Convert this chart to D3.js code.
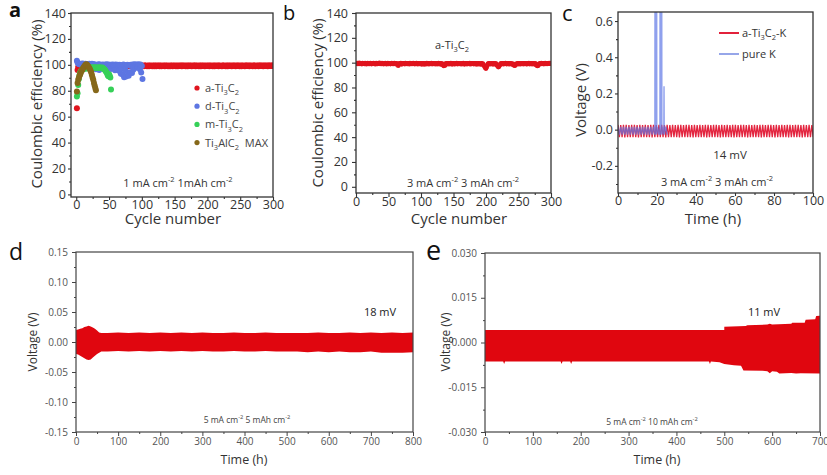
<!DOCTYPE html>
<html><head><meta charset="utf-8">
<script src="https://cdn.jsdelivr.net/npm/d3@7"></script>
<style>body{margin:0;background:#fff}svg{display:block}text{font-family:"Open Sans",sans-serif}</style>
</head><body><svg id="chart" width="827" height="475"></svg>
<script>
// ---------- DATA ----------
// Panel a: Coulombic efficiency (%) per cycle (cycle = position + 1)
const aRed = [
66.5,96.0,98.3,99.0,99.2,98.9,99.3,99.1,99.4,99.0,99.2,99.5,99.1,99.3,98.9,99.4,99.2,99.0,99.3,99.5,
99.1,99.3,99.0,99.4,99.2,98.9,99.5,99.1,99.3,99.0,99.4,99.2,99.1,99.5,99.0,99.3,99.2,98.9,99.4,99.1,
99.3,99.0,99.5,99.2,98.9,99.4,99.1,99.3,99.0,99.5,99.2,99.1,99.4,98.9,99.3,99.2,99.0,99.5,99.1,99.3,
99.4,99.0,99.2,99.5,99.1,98.9,99.3,99.4,99.0,99.2,99.5,99.1,99.3,98.9,99.4,99.2,99.0,99.3,99.5,99.1,
99.2,99.4,99.0,99.3,99.1,99.5,98.9,99.2,99.4,99.0,99.3,99.1,99.5,99.2,98.9,99.4,99.0,99.3,99.2,99.5,
99.1,99.3,99.0,99.4,99.2,99.5,99.1,98.9,99.3,99.4,99.0,99.2,99.5,99.1,99.3,99.0,99.4,99.2,98.9,99.5,
99.2,99.0,99.4,99.1,99.3,99.5,99.0,99.2,99.4,98.9,99.3,99.1,99.5,99.2,99.0,99.4,99.3,99.1,99.5,99.0,
99.3,99.2,98.9,99.4,99.1,99.5,99.0,99.3,99.2,99.4,99.1,98.9,99.5,99.3,99.0,99.2,99.4,99.1,99.3,99.5,
99.0,99.4,99.2,99.1,99.5,99.3,98.9,99.2,99.4,99.0,99.3,99.5,99.1,99.2,99.4,99.0,99.3,99.1,99.5,99.2,
99.4,99.0,99.3,99.5,99.1,99.2,98.9,99.4,99.3,99.0,99.5,99.2,99.1,99.4,99.3,99.0,99.2,99.5,99.1,99.3,
99.2,99.5,99.0,99.3,99.4,99.1,99.2,99.0,99.5,99.3,98.9,99.4,99.2,99.1,99.3,99.5,99.0,99.4,99.2,99.1,
99.3,99.0,99.4,99.2,99.5,99.1,99.3,98.9,99.4,99.2,99.0,99.5,99.3,99.1,99.4,99.2,99.0,99.3,99.5,99.1,
99.4,99.2,99.0,99.3,99.5,99.1,99.4,99.2,98.9,99.3,99.5,99.0,99.2,99.4,99.1,99.3,99.0,99.5,99.2,99.4,
99.1,99.3,99.5,99.0,99.2,99.4,99.1,99.3,99.0,99.5,99.2,99.4,98.9,99.3,99.1,99.5,99.2,99.0,99.4,99.3,
99.5,99.1,99.2,99.4,99.0,99.3,99.5,99.2,99.1,99.4,99.3,99.0,99.5,99.2,99.4,99.1,99.3,99.5,99.2,99.4];
const aBlue = [
103.2,101.8,101.0,100.6,100.9,100.2,100.7,100.4,101.1,100.3,100.8,100.5,100.1,100.9,100.6,100.2,100.7,100.4,100.0,100.8,
100.3,100.6,100.1,100.9,100.4,99.8,100.5,100.2,99.6,96.5,100.1,99.9,97.2,100.4,96.0,100.2,99.7,98.3,100.0,99.5,
100.3,99.8,97.8,100.1,99.6,100.4,98.9,99.7,100.2,97.3,99.9,100.1,96.8,99.6,100.3,99.2,100.0,99.5,95.8,100.2,
99.7,96.4,100.0,99.3,95.5,100.1,99.6,93.2,97.0,99.8,92.5,100.2,90.4,99.5,95.9,91.0,99.7,100.1,93.8,91.6,
99.4,94.3,100.0,99.1,93.6,100.3,96.2,99.8,100.4,97.5,99.6,100.2,99.0,98.1,100.5,99.4,96.6,100.2,94.0,99.1,89.0];
const aGreen = [
75.5,78.0,84.5,89.0,92.0,93.8,95.0,95.6,96.2,96.8,97.0,97.3,96.9,97.5,97.2,97.8,97.4,97.6,98.0,97.7,
97.9,97.5,98.1,97.8,97.6,98.0,97.7,97.9,98.2,97.6,97.8,98.0,97.5,97.9,97.7,98.1,97.6,97.8,97.4,97.9,
97.2,96.8,96.5,95.8,95.0,94.2,93.5,92.0,91.2,92.8,91.5,90.2,81.0];
const aBrown = [
79.5,86.0,88.5,90.0,91.5,92.8,94.0,95.2,96.0,97.0,97.8,98.5,99.2,99.8,100.5,100.2,99.6,99.0,98.2,97.3,
96.4,95.2,93.8,92.0,90.0,88.2,86.0,84.0,82.2,80.3];
// Panel b: a-Ti3C2 at 3 mA cm-2
const bRed = [
99.2,99.6,99.0,99.4,99.8,99.1,99.5,99.3,98.9,99.7,99.2,99.5,99.0,99.6,99.3,98.8,99.4,99.7,99.1,99.5,
99.0,99.6,99.3,98.9,99.5,99.2,99.7,99.1,99.4,98.8,99.6,99.3,99.0,99.5,99.2,99.8,99.1,99.4,99.0,99.6,
99.3,98.9,99.5,99.1,99.7,99.2,98.8,99.4,99.6,99.0,99.3,99.5,98.9,99.2,99.7,99.1,99.4,99.0,99.6,99.3,
98.9,99.5,99.2,98.6,97.6,98.8,99.4,99.1,99.6,98.7,99.3,99.0,99.5,99.2,98.9,99.6,99.1,99.4,99.0,99.5,
99.2,98.8,99.6,99.3,99.0,99.5,99.1,99.7,99.2,98.9,99.4,99.0,99.6,99.3,98.8,99.5,99.2,99.0,99.4,99.1,
98.7,99.3,99.0,99.5,98.6,99.2,99.4,98.9,99.6,99.1,99.3,98.8,99.5,99.0,99.2,99.6,98.9,99.4,99.1,99.3,
99.0,99.5,98.8,99.2,99.4,98.9,99.6,99.1,99.3,98.7,99.0,99.4,98.5,98.2,97.4,98.6,97.8,99.1,99.3,98.9,
99.5,99.2,98.8,99.4,99.0,99.6,99.1,98.7,99.3,99.5,99.0,98.8,99.4,99.2,99.6,98.9,99.3,99.1,99.5,99.0,
99.2,98.8,99.4,99.1,99.6,99.0,98.7,99.3,99.5,99.1,98.9,99.4,99.2,99.0,99.6,98.8,99.3,99.1,99.5,99.2,
98.9,99.4,99.0,99.3,98.7,99.5,99.1,98.8,99.4,99.2,99.0,98.6,99.3,98.9,99.1,98.4,97.6,96.8,95.6,95.2,
96.4,97.8,98.9,99.3,99.0,99.5,98.8,99.2,99.4,99.0,98.7,99.3,99.1,98.9,99.4,98.6,98.0,97.2,96.4,96.9,
97.9,98.8,99.3,99.0,99.5,99.1,98.8,99.4,99.2,99.6,99.0,98.9,99.3,99.1,99.5,98.8,99.2,99.4,99.0,98.7,
99.1,98.5,98.0,97.6,97.9,98.6,99.2,99.0,99.4,98.9,99.3,99.1,98.8,99.5,99.2,99.0,99.4,98.9,99.3,99.1,
99.5,99.0,98.8,99.4,99.2,99.6,98.9,99.3,99.1,99.5,98.8,99.2,99.4,99.0,98.7,99.3,98.5,97.9,97.4,97.6,
98.3,99.0,99.4,99.1,99.6,99.0,99.3,99.5,98.9,99.2,99.6,99.1,99.4,99.0,99.5,99.3,99.7,99.2,99.4,99.6];
// Panel c: voltage (V) vs time (h)
const cRedT = [
0,0.7,1.4,2.1,2.8,3.5,4.2,4.9,5.6,6.3,7,7.7,8.4,9.1,9.8,10.5,11.2,11.9,12.6,13.3,
14,14.7,15.4,16.1,16.8,17.5,18.2,18.9,19.6,20.3,21,21.7,22.4,23.1,23.8,24.5,25.2,25.9,26.6,27.3,
28,28.7,29.4,30.1,30.8,31.5,32.2,32.9,33.6,34.3,35,35.7,36.4,37.1,37.8,38.5,39.2,39.9,40.6,41.3,
42,42.7,43.4,44.1,44.8,45.5,46.2,46.9,47.6,48.3,49,49.7,50.4,51.1,51.8,52.5,53.2,53.9,54.6,55.3,
56,56.7,57.4,58.1,58.8,59.5,60.2,60.9,61.6,62.3,63,63.7,64.4,65.1,65.8,66.5,67.2,67.9,68.6,69.3,
70,70.7,71.4,72.1,72.8,73.5,74.2,74.9,75.6,76.3,77,77.7,78.4,79.1,79.8,80.5,81.2,81.9,82.6,83.3,
84,84.7,85.4,86.1,86.8,87.5,88.2,88.9,89.6,90.3,91,91.7,92.4,93.1,93.8,94.5,95.2,95.9,96.6,97.3,
98,98.7,99.4,100.1];
const cRedV = [
0.026,-0.042,0.025,-0.041,0.027,-0.043,0.026,-0.042,0.025,-0.041,0.026,-0.042,0.027,-0.041,0.025,-0.043,0.026,-0.042,0.025,-0.041,
0.026,-0.042,0.025,-0.041,0.027,-0.043,0.026,-0.042,0.025,-0.041,0.026,-0.042,0.027,-0.041,0.025,-0.043,0.026,-0.042,0.025,-0.041,
0.026,-0.042,0.025,-0.041,0.027,-0.043,0.026,-0.042,0.025,-0.041,0.026,-0.042,0.027,-0.041,0.025,-0.043,0.026,-0.042,0.025,-0.041,
0.026,-0.042,0.025,-0.041,0.027,-0.043,0.026,-0.042,0.025,-0.041,0.026,-0.042,0.027,-0.041,0.025,-0.043,0.026,-0.042,0.025,-0.041,
0.026,-0.042,0.025,-0.041,0.027,-0.043,0.026,-0.042,0.025,-0.041,0.026,-0.042,0.027,-0.041,0.025,-0.043,0.026,-0.042,0.025,-0.041,
0.026,-0.042,0.025,-0.041,0.027,-0.043,0.026,-0.042,0.025,-0.041,0.026,-0.042,0.027,-0.041,0.025,-0.043,0.026,-0.042,0.025,-0.041,
0.026,-0.042,0.025,-0.041,0.027,-0.043,0.026,-0.042,0.025,-0.041,0.026,-0.042,0.027,-0.041,0.025,-0.043,0.026,-0.042,0.025,-0.041,
0.026,-0.042,0.025,-0.041];
const cBlueT = [0,0.7,1.4,2.1,2.8,3.5,4.2,4.9,5.6,6.3,7,7.7,8.4,9.1,9.8,10.5,11.2,11.9,12.6,13.3,14,14.7,15.4,16.1,16.8,17.5,18.2,18.9,
19.0,19.1,19.7,19.8,19.9,20.3,21.0,21.5,21.6,21.7,22.3,22.4,22.5,23.1,23.5,23.6,23.7,24.5,25.2];
const cBlueV = [0.016,-0.027,0.016,-0.027,0.016,-0.027,0.016,-0.027,0.016,-0.027,0.016,-0.027,0.016,-0.027,0.016,-0.027,0.016,-0.027,0.016,-0.027,0.016,-0.027,0.016,-0.027,0.016,-0.027,0.016,-0.027,
1.2,-0.027,0.016,1.2,-0.027,0.016,-0.027,0.016,1.2,-0.027,0.016,1.2,-0.027,0.016,-0.027,0.24,-0.027,0.016,-0.027];
// Panel d: voltage envelope (V) vs time (h)
const dT  = [0,5,10,15,20,25,30,35,40,45,50,55,60,75,100,125,150,175,200,225,250,275,300,325,350,375,400,425,450,475,500,525,550,575,600,625,650,675,700,725,750,775,800];
const dUp = [0.020,0.021,0.022,0.023,0.025,0.026,0.027,0.026,0.024,0.022,0.019,0.016,0.015,0.015,0.016,0.015,0.016,0.015,0.016,0.015,0.016,0.015,0.016,0.015,0.015,0.016,0.015,0.015,0.016,0.015,0.015,0.015,0.015,0.016,0.015,0.015,0.016,0.015,0.016,0.015,0.016,0.015,0.016];
const dLo = [-0.020,-0.021,-0.023,-0.025,-0.027,-0.029,-0.030,-0.029,-0.026,-0.023,-0.020,-0.018,-0.016,-0.016,-0.015,-0.016,-0.015,-0.016,-0.015,-0.016,-0.015,-0.016,-0.015,-0.016,-0.016,-0.015,-0.016,-0.016,-0.015,-0.016,-0.016,-0.016,-0.017,-0.016,-0.017,-0.016,-0.017,-0.017,-0.016,-0.018,-0.018,-0.018,-0.017];
// Panel e: voltage envelope (V) vs time (h)
const eTopT = [0,500,500,545,548,590,595,600,640,642,668,670,690,692,700];
const eTopV = [0.0042,0.0042,0.0053,0.0055,0.0058,0.0060,0.0063,0.0060,0.0063,0.0066,0.0066,0.0076,0.0078,0.0089,0.0090];
const eBotT = [0,38,40,42,158,160,162,178,180,182,468,470,472,490,500,520,535,540,580,590,595,600,610,615,640,650,660,700];
const eBotV = [-0.0064,-0.0064,-0.0072,-0.0064,-0.0064,-0.0072,-0.0064,-0.0064,-0.0072,-0.0064,-0.0064,-0.0072,-0.0064,-0.0066,-0.0072,-0.0076,-0.0078,-0.0094,-0.0095,-0.0096,-0.0103,-0.0096,-0.0098,-0.0104,-0.0102,-0.0104,-0.0103,-0.0104];
// Tick values
const abXTicks = [0,50,100,150,200,250,300];
const abYTicks = [0,20,40,60,80,100,120,140];
const cXTicks = [0,20,40,60,80,100];
const cYTicks = [-0.2,0,0.2,0.4,0.6];
const dXTicks = [0,100,200,300,400,500,600,700,800];
const dYTicks = [-0.15,-0.10,-0.05,0,0.05,0.10,0.15];
const eXTicks = [0,100,200,300,400,500,600,700];
const eYTicks = [-0.030,-0.015,0,0.015,0.030];

// ---------- DRAWING ----------
const svg = d3.select('#chart');
svg.append('rect').attr('width',827).attr('height',475).attr('fill','#fff');
const RED = '#e0141e', BLUE = '#5d76e2', GREEN = '#36d058', BROWN = '#86681a';
const RED2 = '#e0060f';

function rich(t, parts, fs){
  let shift = 0;
  parts.forEach(([s,m])=>{
    const target = m==='sub' ? fs*0.3 : m==='sup' ? -fs*0.42 : 0;
    const ts = t.append('tspan').text(s).attr('dy', target-shift);
    if(m!=='n') ts.attr('font-size', fs*0.68);
    shift = target;
  });
  return t;
}

function panel(c){
  const x = d3.scaleLinear().domain(c.xd).range([c.L,c.R]);
  const y = d3.scaleLinear().domain(c.yd).range([c.B,c.T]);
  svg.append('clipPath').attr('id','clip'+c.id).append('rect')
    .attr('x',c.L).attr('y',c.T).attr('width',c.R-c.L).attr('height',c.B-c.T);
  const g = svg.append('g');
  const data = g.append('g').attr('clip-path',`url(#clip${c.id})`);
  const style = sel => {
    sel.select('.domain').remove();
    sel.selectAll('line').attr('stroke',c.col).attr('stroke-width',c.sw);
    sel.selectAll('text').attr('fill',c.tcol).attr('font-size',c.fs).attr('font-family','"Open Sans",sans-serif');
  };
  g.append('g').attr('transform',`translate(0,${c.B})`)
    .call(d3.axisBottom(x).tickValues(c.xm).tickFormat('').tickSize(c.mt).tickSizeOuter(0)).call(style);
  g.append('g').attr('transform',`translate(${c.L},0)`)
    .call(d3.axisLeft(y).tickValues(c.ym).tickFormat('').tickSize(c.mt).tickSizeOuter(0)).call(style);
  g.append('g').attr('transform',`translate(0,${c.B})`)
    .call(d3.axisBottom(x).tickValues(c.xt).tickFormat(d3.format(c.xf)).tickSize(c.tk).tickPadding(c.px).tickSizeOuter(0)).call(style);
  g.append('g').attr('transform',`translate(${c.L},0)`)
    .call(d3.axisLeft(y).tickValues(c.yt).tickFormat(v=>d3.format(c.yf)(v).replace('−','-')).tickSize(c.tk).tickPadding(c.py).tickSizeOuter(0)).call(style);
  g.append('rect').attr('x',c.L).attr('y',c.T).attr('width',c.R-c.L).attr('height',c.B-c.T)
    .attr('fill','none').attr('stroke',c.col).attr('stroke-width',c.fw);
  return {x,y,data,g};
}
function minorOf(ticks){ const r=[]; for(let i=0;i<ticks.length-1;i++) r.push((ticks[i]+ticks[i+1])/2); return r; }

const big = {col:'#333',tcol:'#333',sw:1.1,fw:1.3,fs:12.5,tk:3,mt:2,px:0.5,py:2};
// ---- Panel a ----
const A = panel(Object.assign({},big,{id:'a',L:71,R:273,T:13,B:197,xd:[-8,300],yd:[-2,140],
  xt:abXTicks,yt:abYTicks,xm:minorOf(abXTicks),ym:minorOf(abYTicks),xf:'d',yf:'d'}));
[[aRed,RED],[aBlue,BLUE],[aGreen,GREEN],[aBrown,BROWN]].forEach(([arr,col])=>{
  A.data.selectAll(null).data(arr).enter().append('circle')
    .attr('cx',(d,i)=>A.x(i+1)).attr('cy',d=>A.y(d)).attr('r',3).attr('fill',col);
});
const legA = [[RED,[['a-Ti','n'],['3','sub'],['C','n'],['2','sub']]],
  [BLUE,[['d-Ti','n'],['3','sub'],['C','n'],['2','sub']]],
  [GREEN,[['m-Ti','n'],['3','sub'],['C','n'],['2','sub']]],
  [BROWN,[['Ti','n'],['3','sub'],['AlC','n'],['2','sub'],['  MAX','n']]]];
legA.forEach(([col,parts],i)=>{
  const yy = 88 + i*18.2;
  svg.append('circle').attr('cx',197).attr('cy',yy).attr('r',2.6).attr('fill',col);
  rich(svg.append('text').attr('x',205).attr('y',yy+4).attr('font-size',11).attr('fill','#444').attr('xml:space','preserve'),parts,11);
});
rich(svg.append('text').attr('x',178).attr('y',187).attr('text-anchor','middle').attr('font-size',11).attr('fill','#333'),
  [['1 mA cm','n'],['-2','sup'],[' 1mAh cm','n'],['-2','sup']],11);
svg.append('text').attr('x',173).attr('y',224).attr('text-anchor','middle').attr('font-size',15).attr('fill','#333').text('Cycle number');
svg.append('text').attr('transform','translate(42,104) rotate(-90)').attr('text-anchor','middle').attr('font-size',15).attr('fill','#333').text('Coulombic efficiency (%)');
svg.append('text').attr('x',9).attr('y',17).attr('font-size',20).attr('font-weight','bold').attr('font-family','"Liberation Sans",Arial,sans-serif').attr('fill','#111').text('a');

// ---- Panel b ----
const B = panel(Object.assign({},big,{id:'b',L:356,R:551,T:13,B:193,xd:[0,300],yd:[-5,140],
  xt:abXTicks,yt:abYTicks,xm:minorOf(abXTicks),ym:minorOf(abYTicks),xf:'d',yf:'d',tk:4,py:4}));
B.data.selectAll(null).data(bRed).enter().append('circle')
  .attr('cx',(d,i)=>B.x(i+1)).attr('cy',d=>B.y(d)).attr('r',2.4).attr('fill',RED);
rich(svg.append('text').attr('x',452).attr('y',49).attr('text-anchor','middle').attr('font-size',11).attr('fill','#333'),
  [['a-Ti','n'],['3','sub'],['C','n'],['2','sub']],11);
rich(svg.append('text').attr('x',463).attr('y',187).attr('text-anchor','middle').attr('font-size',11).attr('fill','#333'),
  [['3 mA cm','n'],['-2','sup'],[' 3 mAh cm','n'],['-2','sup']],11);
svg.append('text').attr('x',459).attr('y',224).attr('text-anchor','middle').attr('font-size',15).attr('fill','#333').text('Cycle number');
svg.append('text').attr('transform','translate(323,103) rotate(-90)').attr('text-anchor','middle').attr('font-size',15).attr('fill','#333').text('Coulombic efficiency (%)');
svg.append('text').attr('x',283).attr('y',20).attr('font-size',20).attr('font-family','"Liberation Sans",Arial,sans-serif').attr('fill','#111').text('b');

// ---- Panel c ----
const C = panel(Object.assign({},big,{id:'c',L:618,R:813,T:12,B:193,xd:[0,100],yd:[-0.35,0.65],
  xt:cXTicks,yt:cYTicks,xm:minorOf(cXTicks),ym:[-0.3,-0.1,0.1,0.3,0.5],xf:'d',yf:'.1f'}));
const lineC = d3.line().x(d=>C.x(d[0])).y(d=>C.y(d[1]));
C.data.append('path').attr('d',lineC(cRedT.map((t,i)=>[t,cRedV[i]]))).attr('fill','none')
  .attr('stroke','#e3253f').attr('stroke-width',1.3);
C.data.append('path').attr('d',lineC(cBlueT.map((t,i)=>[t,cBlueV[i]]))).attr('fill','none')
  .attr('stroke','#5f78e6').attr('stroke-width',1.4).attr('stroke-opacity',0.7);
svg.append('line').attr('x1',719).attr('x2',739).attr('y1',33).attr('y2',33).attr('stroke','#e2213b').attr('stroke-width',2);
svg.append('line').attr('x1',719).attr('x2',739).attr('y1',54).attr('y2',54).attr('stroke','#7b90e4').attr('stroke-width',1.6);
rich(svg.append('text').attr('x',742).attr('y',37).attr('font-size',11).attr('fill','#333'),
  [['a-Ti','n'],['3','sub'],['C','n'],['2','sub'],['-K','n']],11);
svg.append('text').attr('x',742).attr('y',58).attr('font-size',11).attr('fill','#333').text('pure K');
svg.append('text').attr('x',730).attr('y',159).attr('text-anchor','middle').attr('font-size',11.5).attr('fill','#333').text('14 mV');
rich(svg.append('text').attr('x',717).attr('y',186).attr('text-anchor','middle').attr('font-size',11).attr('fill','#333'),
  [['3 mA cm','n'],['-2','sup'],[' 3 mAh cm','n'],['-2','sup']],11);
svg.append('text').attr('x',713).attr('y',224).attr('text-anchor','middle').attr('font-size',15).attr('fill','#333').text('Time (h)');
svg.append('text').attr('transform','translate(586,100) rotate(-90)').attr('text-anchor','middle').attr('font-size',15).attr('fill','#333').text('Voltage (V)');
svg.append('text').attr('x',562).attr('y',21).attr('font-size',22).attr('font-family','"Liberation Sans",Arial,sans-serif').attr('fill','#111').text('c');

// ---- Panel d ----
const small = {col:'#444',tcol:'#555',sw:1,fw:1.2,fs:10,tk:4,mt:2,px:2,py:4};
const D = panel(Object.assign({},small,{id:'d',L:76,R:413,T:252,B:432,xd:[0,800],yd:[-0.15,0.15],
  xt:dXTicks,yt:dYTicks,xm:minorOf(dXTicks),ym:minorOf(dYTicks),xf:'d',yf:'.2f'}));
const areaD = d3.area().x((d,i)=>D.x(dT[i])).y0((d,i)=>D.y(dLo[i])).y1((d,i)=>D.y(dUp[i]));
D.data.append('path').attr('d',areaD(dT)).attr('fill',RED2);
svg.append('text').attr('x',380).attr('y',316).attr('text-anchor','middle').attr('font-size',11).attr('fill','#222').text('18 mV');
rich(svg.append('text').attr('x',247).attr('y',423).attr('text-anchor','middle').attr('font-size',8.5).attr('fill','#444'),
  [['5 mA cm','n'],['-2','sup'],[' 5 mAh cm','n'],['-2','sup']],8.5);
svg.append('text').attr('x',244).attr('y',464).attr('text-anchor','middle').attr('font-size',12.5).attr('fill','#333').text('Time (h)');
svg.append('text').attr('transform','translate(37,342) rotate(-90)').attr('text-anchor','middle').attr('font-size',12).attr('fill','#333').text('Voltage (V)');
svg.append('text').attr('x',9).attr('y',260).attr('font-size',23).attr('fill','#111').text('d');

// ---- Panel e ----
const E = panel(Object.assign({},small,{id:'e',L:485,R:820,T:253,B:432,xd:[0,700],yd:[-0.03,0.03],
  xt:eXTicks,yt:eYTicks,xm:minorOf(eXTicks),ym:minorOf(eYTicks),xf:'d',yf:'.3f'}));
const polyE = eTopT.map((t,i)=>[t,eTopV[i]]).concat(eBotT.map((t,i)=>[t,eBotV[i]]).reverse());
E.data.append('path').attr('d',d3.line().x(d=>E.x(d[0])).y(d=>E.y(d[1]))(polyE)+'Z').attr('fill',RED2);
svg.append('text').attr('x',764).attr('y',316).attr('text-anchor','middle').attr('font-size',11).attr('fill','#222').text('11 mV');
rich(svg.append('text').attr('x',652).attr('y',425).attr('text-anchor','middle').attr('font-size',8.5).attr('fill','#444'),
  [['5 mA cm','n'],['-2','sup'],[' 10 mAh cm','n'],['-2','sup']],8.5);
svg.append('text').attr('x',657).attr('y',464).attr('text-anchor','middle').attr('font-size',12.5).attr('fill','#333').text('Time (h)');
svg.append('text').attr('transform','translate(450,342) rotate(-90)').attr('text-anchor','middle').attr('font-size',12).attr('fill','#333').text('Voltage (V)');
svg.append('text').attr('x',426).attr('y',260).attr('font-size',27).attr('fill','#111').text('e');
</script></body></html>
